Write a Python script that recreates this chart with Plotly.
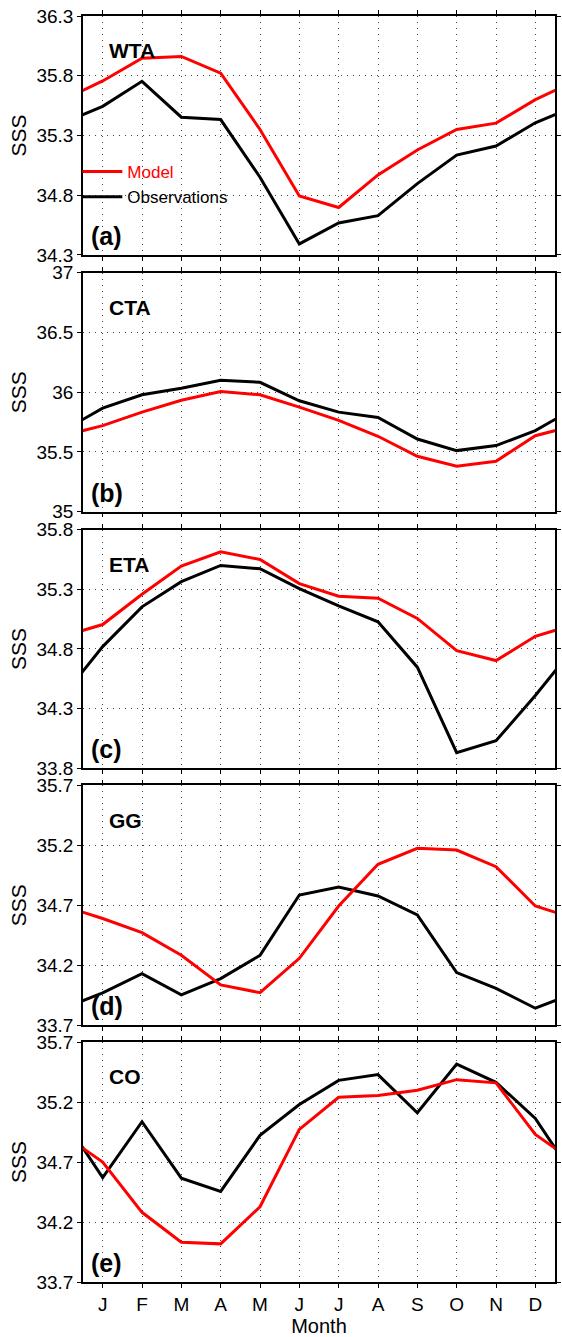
import plotly.graph_objects as go

months = ["J", "F", "M", "A", "M", "J", "J", "A", "S", "O", "N", "D"]
regions = ["WTA", "CTA", "ETA", "GG", "CO"]
panel_tags = ["(a)", "(b)", "(c)", "(d)", "(e)"]

wta_model = [35.756, 35.947, 35.961, 35.822, 35.35, 34.794, 34.697, 34.97, 35.178, 35.35, 35.403, 35.6]
wta_obs = [35.544, 35.753, 35.453, 35.433, 34.95, 34.392, 34.567, 34.628, 34.897, 35.136, 35.211, 35.406]
cta_model = [35.72, 35.833, 35.933, 36.006, 35.978, 35.875, 35.764, 35.631, 35.464, 35.381, 35.422, 35.636]
cta_obs = [35.867, 35.978, 36.033, 36.1, 36.083, 35.928, 35.833, 35.789, 35.608, 35.511, 35.553, 35.678]
eta_model = [35.005, 35.258, 35.495, 35.614, 35.55, 35.348, 35.242, 35.225, 35.056, 34.786, 34.703, 34.906]
eta_obs = [34.82, 35.153, 35.364, 35.5, 35.472, 35.306, 35.161, 35.028, 34.648, 33.931, 34.031, 34.41]
gg_model = [34.59, 34.472, 34.283, 34.036, 33.972, 34.258, 34.694, 35.042, 35.175, 35.161, 35.022, 34.694]
gg_obs = [33.97, 34.13, 33.953, 34.089, 34.283, 34.786, 34.853, 34.778, 34.619, 34.139, 34.008, 33.842]
co_model = [34.70, 34.281, 34.032, 34.018, 34.327, 34.972, 35.24, 35.254, 35.298, 35.387, 35.36, 34.93]
co_obs = [34.57, 35.036, 34.566, 34.455, 34.922, 35.18, 35.381, 35.429, 35.111, 35.517, 35.365, 35.063]

model_series = [wta_model, cta_model, eta_model, gg_model, co_model]
obs_series = [wta_obs, cta_obs, eta_obs, gg_obs, co_obs]

y_ranges = [[34.3, 36.3], [35.0, 37.0], [33.8, 35.8], [33.7, 35.7], [33.7, 35.7]]
y_ticks = [
    [34.3, 34.8, 35.3, 35.8, 36.3],
    [35.0, 35.5, 36.0, 36.5, 37.0],
    [33.8, 34.3, 34.8, 35.3, 35.8],
    [33.7, 34.2, 34.7, 35.2, 35.7],
    [33.7, 34.2, 34.7, 35.2, 35.7],
]
y_ticktext = [
    ["34.3", "34.8", "35.3", "35.8", "36.3"],
    ["35", "35.5", "36", "36.5", "37"],
    ["33.8", "34.3", "34.8", "35.3", "35.8"],
    ["33.7", "34.2", "34.7", "35.2", "35.7"],
    ["33.7", "34.2", "34.7", "35.2", "35.7"],
]

FONT = "Liberation Sans, Arial, Helvetica, sans-serif"
domains = [[0.8113, 1.0], [0.6085, 0.7972], [0.4057, 0.5943], [0.2028, 0.3923], [0.0, 0.1895]]

# cyclic wrap: December before January, January after December
x_month = list(range(0, 14))


def wrap(vals):
    return [vals[-1]] + list(vals) + [vals[0]]


fig = go.Figure()
annotations = []
for i in range(5):
    k = "" if i == 0 else str(i + 1)
    fig.add_trace(go.Scatter(
        x=x_month, y=wrap(obs_series[i]), mode="lines",
        line=dict(color="black", width=3),
        name="Observations", showlegend=(i == 0), legendrank=2,
        xaxis="x" + k, yaxis="y" + k,
    ))
    fig.add_trace(go.Scatter(
        x=x_month, y=wrap(model_series[i]), mode="lines",
        line=dict(color="#ff0000", width=3),
        name='<span style="color:#ff0000">Model</span>', showlegend=(i == 0), legendrank=1,
        xaxis="x" + k, yaxis="y" + k,
    ))
    xa = dict(
        domain=[0, 1], range=[0.5, 12.5], anchor="y" + k,
        tickmode="array", tickvals=list(range(1, 13)), ticktext=months,
        showticklabels=(i == 4), ticks="outside", ticklen=4, tickwidth=1, tickcolor="black",
        mirror="ticks", showline=True, linecolor="black", linewidth=1.5,
        showgrid=True, gridcolor="#444444", gridwidth=1, griddash="1px,5px",
        zeroline=False, tickfont=dict(size=19, color="black", family=FONT),
    )
    if i == 4:
        xa["title"] = dict(text="Month", font=dict(size=20, color="black", family=FONT), standoff=7)
    ya = dict(
        domain=domains[i], range=y_ranges[i], anchor="x" + k,
        tickmode="array", tickvals=y_ticks[i], ticktext=y_ticktext[i],
        ticks="outside", ticklen=4, tickwidth=1, tickcolor="black",
        mirror="ticks", showline=True, linecolor="black", linewidth=1.5,
        showgrid=True, gridcolor="#444444", gridwidth=1, griddash="1px,5px",
        zeroline=False, tickfont=dict(size=19, color="black", family=FONT),
        title=dict(text="SSS", font=dict(size=21, color="black", family=FONT), standoff=4),
    )
    fig.update_layout({"xaxis" + k: xa, "yaxis" + k: ya})
    annotations.append(dict(
        text="<b>" + regions[i] + "</b>", xref="x" + k + " domain", yref="y" + k + " domain",
        x=0.051, y=0.855, xanchor="left", yanchor="middle", showarrow=False,
        font=dict(size=21, color="black", family=FONT),
    ))
    annotations.append(dict(
        text="<b>" + panel_tags[i] + "</b>", xref="x" + k + " domain", yref="y" + k + " domain",
        x=0.012, y=0.08, xanchor="left", yanchor="middle", showarrow=False,
        font=dict(size=25, color="black", family=FONT),
    ))

fig.update_layout(
    width=562, height=1337,
    margin=dict(l=83, r=1, t=16, b=49),
    paper_bgcolor="white", plot_bgcolor="white",
    font=dict(family=FONT, color="black"),
    annotations=annotations,
    showlegend=True,
    legend=dict(
        x=-0.012, y=0.891, xanchor="left", yanchor="top",
        bgcolor="rgba(0,0,0,0)", borderwidth=0,
        font=dict(size=17, color="black", family=FONT),
        itemwidth=40, tracegroupgap=0,
    ),
)

fig.write_html("out.html")
